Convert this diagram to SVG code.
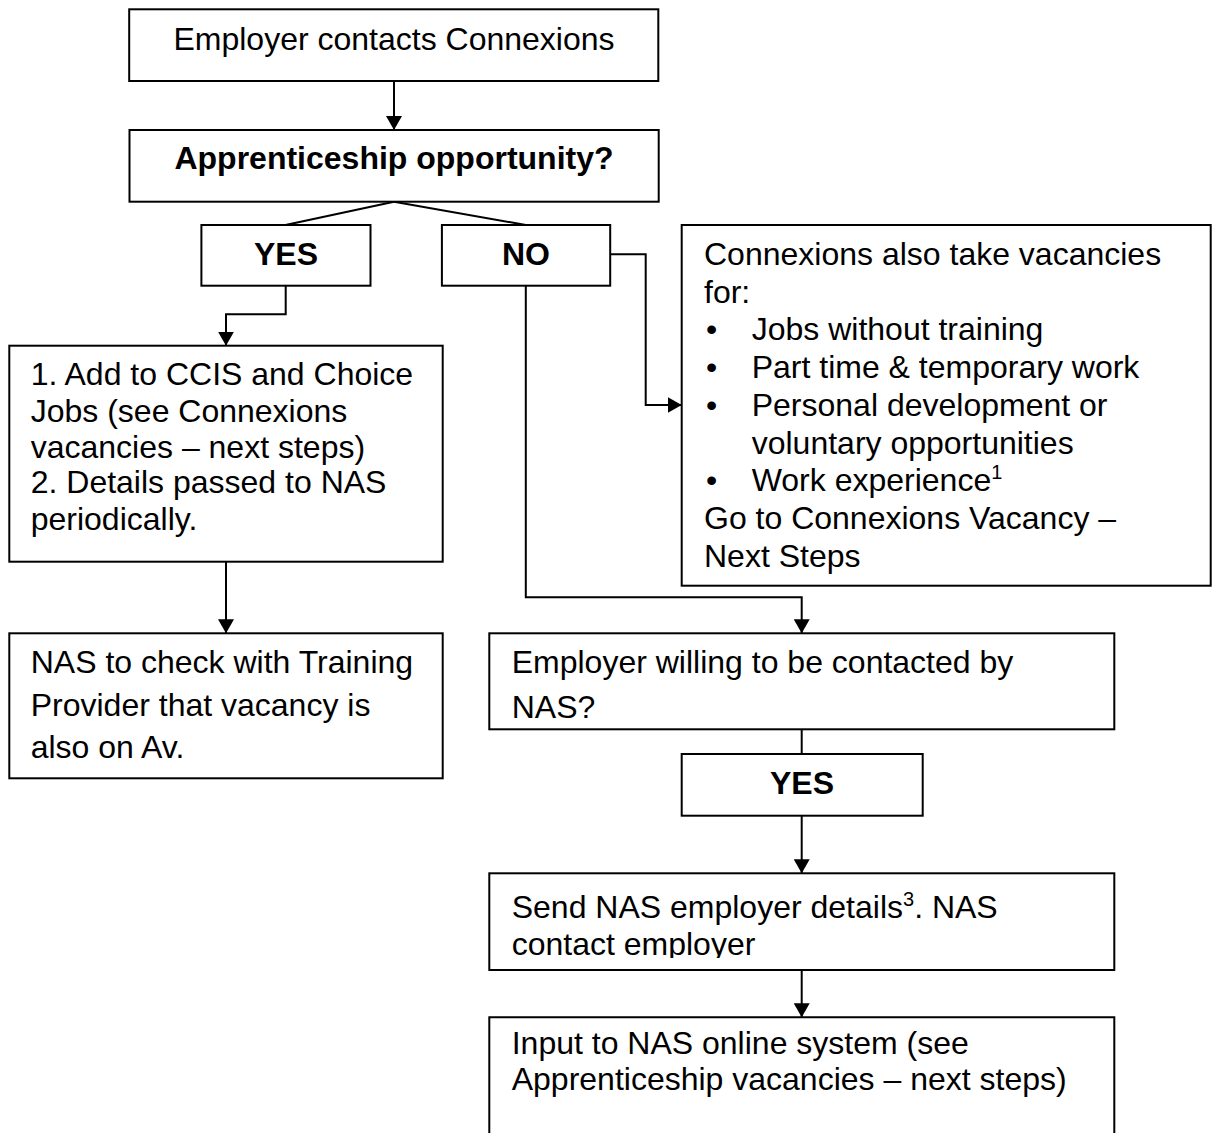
<svg xmlns="http://www.w3.org/2000/svg" width="1213" height="1133" viewBox="0 0 1213 1133">
<style>
.box{fill:#fff;stroke:#000;stroke-width:2}
.t{font-family:"Liberation Sans",Arial,sans-serif;font-size:32px;fill:#000}
.b{font-weight:bold}
.c{text-anchor:middle}
.ln{fill:none;stroke:#000;stroke-width:2}
.sup{font-size:20px}
</style>
<defs>
<marker id="ah" viewBox="0 0 14 16" refX="14" refY="8" markerWidth="14" markerHeight="16" markerUnits="userSpaceOnUse" orient="auto">
<path d="M0,0 L14,8 L0,16 z" fill="#000"/>
</marker>
<clipPath id="clipSend"><rect x="489" y="873" width="626" height="85"/></clipPath>
</defs>
<rect width="1213" height="1133" fill="#fff"/>

<g id="connectors">
<line class="ln" x1="394" y1="81" x2="394" y2="130" marker-end="url(#ah)"/>
<line class="ln" x1="394" y1="201.7" x2="285.5" y2="225"/>
<line class="ln" x1="394" y1="201.7" x2="525.8" y2="225"/>
<polyline class="ln" points="285.7,285.7 285.7,314.3 226,314.3 226,345.7" marker-end="url(#ah)"/>
<polyline class="ln" points="610,254.3 645.7,254.3 645.7,405 681.7,405" marker-end="url(#ah)"/>
<polyline class="ln" points="525.8,285.7 525.8,597.3 801.7,597.3 801.7,633.3" marker-end="url(#ah)"/>
<line class="ln" x1="226" y1="561.7" x2="226" y2="633.3" marker-end="url(#ah)"/>
<line class="ln" x1="801.7" y1="729.3" x2="801.7" y2="754"/>
<line class="ln" x1="801.7" y1="815.7" x2="801.7" y2="873.3" marker-end="url(#ah)"/>
<line class="ln" x1="801.7" y1="970" x2="801.7" y2="1017.3" marker-end="url(#ah)"/>
</g>

<g id="n-employer-contacts">
<rect class="box" x="129.2" y="9.3" width="529.1" height="71.7"/>
<text class="t c" x="394" y="50">Employer contacts Connexions</text>
</g>

<g id="n-apprenticeship">
<rect class="box" x="129.5" y="130" width="529.2" height="71.7"/>
<text class="t b c" x="394" y="169">Apprenticeship opportunity?</text>
</g>

<g id="n-yes1">
<rect class="box" x="201.4" y="225" width="169.1" height="60.7"/>
<text class="t b c" x="286" y="265">YES</text>
</g>

<g id="n-no">
<rect class="box" x="441.9" y="225" width="168.3" height="60.7"/>
<text class="t b c" x="526" y="265">NO</text>
</g>

<g id="n-ccis">
<rect class="box" x="9.3" y="345.7" width="433.4" height="216"/>
<text class="t" x="30.7" y="385">1. Add to CCIS and Choice</text>
<text class="t" x="30.7" y="421.7">Jobs (see Connexions</text>
<text class="t" x="30.7" y="458.3">vacancies – next steps)</text>
<text class="t" x="30.7" y="493.3">2. Details passed to NAS</text>
<text class="t" x="30.7" y="530">periodically.</text>
</g>

<g id="n-other-vacancies">
<rect class="box" x="681.7" y="225" width="529" height="360.7"/>
<text class="t" x="704" y="265">Connexions also take vacancies</text>
<text class="t" x="704" y="302.7">for:</text>
<text class="t" x="706" y="340.4">•</text>
<text class="t" x="751.7" y="340.4">Jobs without training</text>
<text class="t" x="706" y="378.1">•</text>
<text class="t" x="751.7" y="378.1">Part time &amp; temporary work</text>
<text class="t" x="706" y="415.8">•</text>
<text class="t" x="751.7" y="415.8">Personal development or</text>
<text class="t" x="751.7" y="453.5">voluntary opportunities</text>
<text class="t" x="706" y="491.2">•</text>
<text class="t" x="751.7" y="491.2">Work experience<tspan class="sup" dy="-12">1</tspan></text>
<text class="t" x="704" y="528.9">Go to Connexions Vacancy –</text>
<text class="t" x="704" y="566.6">Next Steps</text>
</g>

<g id="n-nas-check">
<rect class="box" x="9.3" y="633.3" width="433.4" height="145"/>
<text class="t" x="30.7" y="673">NAS to check with Training</text>
<text class="t" x="30.7" y="715.5">Provider that vacancy is</text>
<text class="t" x="30.7" y="758">also on Av.</text>
</g>

<g id="n-willing">
<rect class="box" x="489.3" y="633.3" width="625" height="96"/>
<text class="t" x="511.7" y="673">Employer willing to be contacted by</text>
<text class="t" x="511.7" y="718">NAS?</text>
</g>

<g id="n-yes2">
<rect class="box" x="681.7" y="754" width="241" height="61.7"/>
<text class="t b c" x="802" y="794">YES</text>
</g>

<g id="n-send">
<rect class="box" x="489.3" y="873.3" width="625" height="96.7"/>
<g clip-path="url(#clipSend)">
<text class="t" x="511.7" y="918">Send NAS employer details<tspan class="sup" dy="-12">3</tspan><tspan dy="12">. NAS</tspan></text>
<text class="t" x="511.7" y="955">contact employer</text>
</g>
</g>

<g id="n-input">
<path class="box" d="M489.3,1140 V1017.3 H1114.3 V1140"/>
<text class="t" x="511.7" y="1054">Input to NAS online system (see</text>
<text class="t" x="511.7" y="1090">Apprenticeship vacancies – next steps)</text>
</g>
</svg>
